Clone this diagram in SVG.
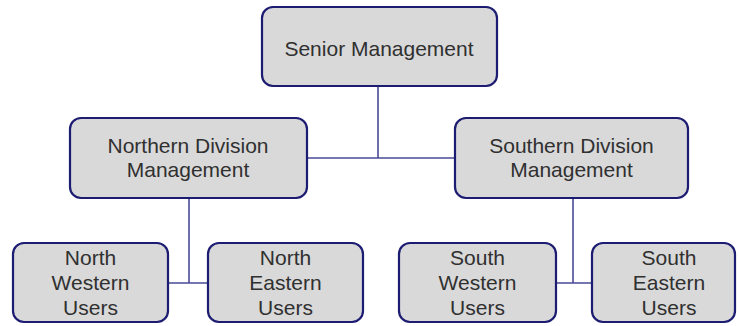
<svg xmlns="http://www.w3.org/2000/svg" width="738" height="326" viewBox="0 0 738 326">
<style>
.box{fill:#d9d9d9;stroke:#1c1c72;stroke-width:2.2}
.t{font-family:"Liberation Sans",Arial,sans-serif;font-size:21px;fill:#303030;text-anchor:middle}
.c{stroke:#4a4a98;stroke-width:1.6;fill:none}
</style>
<rect width="738" height="326" fill="#ffffff"/>
<g id="connectors">
<path class="c" d="M378 86V158M307 158H455"/>
<path class="c" d="M189 198V283M168 283H208"/>
<path class="c" d="M573 198V283M556 283H592"/>
</g>
<g id="senior"><rect class="box" x="262" y="7" width="235" height="79" rx="11"/><text class="t" x="379" y="56">Senior Management</text></g>
<g id="northern"><rect class="box" x="70" y="118" width="237" height="80" rx="11"/><text class="t" x="188" y="153">Northern Division</text><text class="t" x="188" y="177">Management</text></g>
<g id="southern"><rect class="box" x="455" y="118" width="233" height="80" rx="11"/><text class="t" x="571.5" y="153">Southern Division</text><text class="t" x="571.5" y="177">Management</text></g>
<g id="nw"><rect class="box" x="13" y="243" width="155" height="79" rx="11"/><text class="t" x="90.5" y="265">North</text><text class="t" x="90.5" y="290">Western</text><text class="t" x="90.5" y="315">Users</text></g>
<g id="ne"><rect class="box" x="208" y="243" width="155" height="79" rx="11"/><text class="t" x="285.5" y="265">North</text><text class="t" x="285.5" y="290">Eastern</text><text class="t" x="285.5" y="315">Users</text></g>
<g id="sw"><rect class="box" x="399" y="243" width="157" height="79" rx="11"/><text class="t" x="477.5" y="265">South</text><text class="t" x="477.5" y="290">Western</text><text class="t" x="477.5" y="315">Users</text></g>
<g id="se"><rect class="box" x="592" y="243" width="143" height="79" rx="11"/><text class="t" x="669" y="265">South</text><text class="t" x="669" y="290">Eastern</text><text class="t" x="669" y="315">Users</text></g>
</svg>
